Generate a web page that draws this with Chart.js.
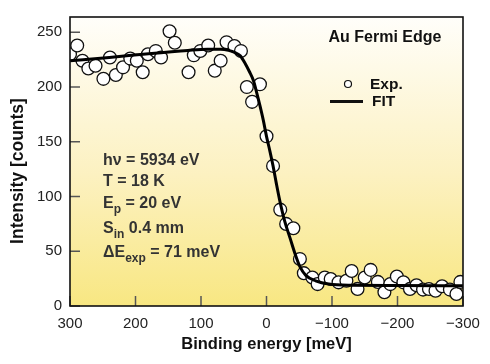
<!DOCTYPE html>
<html>
<head>
<meta charset="utf-8">
<script src="https://cdn.jsdelivr.net/npm/chart.js@4"></script>
<style>
  html, body { margin: 0; padding: 0; background: #fff; }
  canvas { display: block; }
</style>
</head>
<body>
<canvas id="chart" width="490" height="364"></canvas>
<script>
// measured points (binding energy in meV, intensity in counts)
const expEnergy = [300, 289, 281, 272, 261, 249, 239, 230, 219, 208, 198, 189, 181, 169, 161, 148, 140,
    119, 111, 101, 89, 79, 70, 61, 49, 39, 30, 22, 10, 0, -10, -21, -30, -41, -51, -57, -70, -78,
    -89, -98, -110, -122, -130, -139, -150, -159, -170, -180, -189, -199, -209, -219, -229, -239,
    -248, -258, -268, -280, -290, -296];
const expCounts = [230, 238, 224, 217, 219.5, 207.5, 227, 211, 218, 226, 224, 213.5, 230, 233, 227, 251, 240.5,
    213.5, 229, 233, 238, 215, 224, 241, 237.5, 233, 200, 186.5, 202.5, 155, 128, 88, 75, 71, 43, 30, 26, 20,
    26, 24.6, 21.6, 23, 32, 15.6, 26, 33, 22, 12.6, 20, 27, 21.6, 15.6, 19, 15,
    15.5, 14, 18, 15, 11, 22];

// fit curve
const fitEnergy = [300, 240, 180, 120, 90, 70, 58, 48, 40, 33, 26, 20, 15, 10, 5, 0, -5, -10, -15, -20,
    -28, -36, -44, -51, -60, -75, -95, -130, -200, -300];
const fitCounts = [224, 227, 230.5, 233.5, 234.5, 234.5, 233.5, 231.5, 228.5, 222, 214, 206, 195, 183, 170, 155, 142, 128, 112, 97,
    77, 62, 47, 36, 28, 23, 20, 19, 18.8, 18.5];

const xTicks = [300, 200, 100, 0, -100, -200, -300];
const yTicks = [0, 50, 100, 150, 200, 250];

const FONT = '"Liberation Sans", Arial, Helvetica, sans-serif';

const toXY = (xs, ys) => xs.map((x, i) => ({x: x, y: ys[i]}));

// draws a line of text where some pieces are subscripts
const drawRich = (ctx, parts, x, y, size) => {
    let cx = x;
    parts.forEach((p) => {
        const s = p.sub ? Math.round(size * 0.72) : size;
        ctx.font = 'bold ' + s + 'px ' + FONT;
        ctx.fillText(p.t, cx, p.sub ? y + size * 0.3 : y);
        cx += ctx.measureText(p.t).width;
    });
};

const decor = {
    id: 'decor',
    beforeDraw(chart) {
        const {ctx, chartArea: a} = chart;
        ctx.save();
        ctx.fillStyle = '#fff';
        ctx.fillRect(0, 0, chart.width, chart.height);
        const g = ctx.createLinearGradient(0, a.top, 0, a.bottom);
        g.addColorStop(0, '#fffefa');
        g.addColorStop(0.55, '#fcf1c0');
        g.addColorStop(1, '#f8e782');
        ctx.fillStyle = g;
        ctx.fillRect(a.left, a.top, a.right - a.left, a.bottom - a.top);
        ctx.restore();
    },
    beforeDatasetsDraw(chart) {
        const {ctx, chartArea: a, scales} = chart;
        ctx.save();
        ctx.strokeStyle = '#555';
        ctx.lineWidth = 1.5;
        ctx.beginPath();
        xTicks.forEach((v) => {
            const px = scales.x.getPixelForValue(v);
            ctx.moveTo(px, a.bottom);
            ctx.lineTo(px, a.bottom - 10);
        });
        yTicks.forEach((v) => {
            const py = scales.y.getPixelForValue(v);
            ctx.moveTo(a.left, py);
            ctx.lineTo(a.left + 10, py);
        });
        ctx.stroke();
        ctx.restore();
    },
    afterDatasetsDraw(chart) {
        const {ctx, chartArea: a} = chart;
        ctx.save();
        ctx.strokeStyle = '#111';
        ctx.lineWidth = 1.6;
        ctx.strokeRect(a.left, a.top, a.right - a.left, a.bottom - a.top);
        ctx.restore();
    },
    afterDraw(chart) {
        const ctx = chart.ctx;
        ctx.save();
        ctx.fillStyle = '#111';
        ctx.textBaseline = 'alphabetic';
        ctx.textAlign = 'center';
        ctx.font = 'bold 16px ' + FONT;
        ctx.fillText('Au Fermi Edge', 385, 42);

        // y axis title, sits a bit below the axis centre in the original
        ctx.save();
        ctx.translate(18, 171);
        ctx.rotate(-Math.PI / 2);
        ctx.textBaseline = 'middle';
        ctx.font = 'bold 17.5px ' + FONT;
        ctx.fillText('Intensity [counts]', 0, 0);
        ctx.restore();

        // legend
        ctx.textAlign = 'left';
        ctx.font = 'bold 15.5px ' + FONT;
        ctx.fillText('Exp.', 370, 89);
        ctx.fillText('FIT', 372, 106);
        ctx.beginPath();
        ctx.arc(348, 84, 3.5, 0, Math.PI * 2);
        ctx.fillStyle = '#fff';
        ctx.fill();
        ctx.lineWidth = 1.2;
        ctx.strokeStyle = '#111';
        ctx.stroke();
        ctx.beginPath();
        ctx.lineWidth = 3;
        ctx.moveTo(330, 101.5);
        ctx.lineTo(363, 101.5);
        ctx.stroke();

        // measurement parameters
        ctx.fillStyle = '#333';
        drawRich(ctx, [{t: 'h\u03bd = 5934 eV'}], 103, 165, 16);
        drawRich(ctx, [{t: 'T = 18 K'}], 103, 186, 16);
        drawRich(ctx, [{t: 'E'}, {t: 'p', sub: true}, {t: ' = 20 eV'}], 103, 208, 16);
        drawRich(ctx, [{t: 'S'}, {t: 'in', sub: true}, {t: ' 0.4 mm'}], 103, 233, 16);
        drawRich(ctx, [{t: '\u0394E'}, {t: 'exp', sub: true}, {t: ' = 71 meV'}], 103, 257, 16);
        ctx.restore();
    }
};

const graph = document.querySelector('#chart');

new Chart(graph, {
    type: 'scatter',
    data: {
        datasets: [
            {
                label: 'FIT',
                data: toXY(fitEnergy, fitCounts),
                showLine: true,
                borderColor: '#000',
                borderWidth: 3,
                pointRadius: 0,
                cubicInterpolationMode: 'monotone',
                clip: 0
            },
            {
                label: 'Exp.',
                data: toXY(expEnergy, expCounts),
                pointRadius: 6.4,
                pointBorderWidth: 1.3,
                pointBorderColor: '#111',
                pointBackgroundColor: '#fff',
                clip: 0
            }
        ]
    },
    options: {
        responsive: false,
        animation: false,
        devicePixelRatio: 1,
        layout: {padding: {left: 0, right: 27, top: 12, bottom: 0}},
        plugins: {
            legend: {display: false},
            tooltip: {enabled: false}
        },
        scales: {
            x: {
                type: 'linear',
                reverse: true,
                min: -300,
                max: 300,
                afterBuildTicks: (scale) => { scale.ticks = xTicks.map((v) => ({value: v})); },
                afterFit: (scale) => { scale.height = 58; },
                grid: {display: false, drawTicks: false},
                border: {display: false},
                ticks: {
                    autoSkip: false,
                    maxRotation: 0,
                    padding: 9,
                    color: '#222',
                    font: {family: FONT, size: 15},
                    callback: (v) => (v < 0 ? '\u2212' + Math.abs(v) : String(v))
                },
                title: {
                    display: true,
                    text: 'Binding energy [meV]',
                    color: '#111',
                    font: {family: FONT, size: 16.5, weight: 'bold'},
                    padding: {top: 0, bottom: 10}
                }
            },
            y: {
                type: 'linear',
                min: 0,
                max: 264,
                afterBuildTicks: (scale) => { scale.ticks = yTicks.map((v) => ({value: v})); },
                afterFit: (scale) => { scale.width = 70; },
                grid: {display: false, drawTicks: false},
                border: {display: false},
                ticks: {
                    padding: 8,
                    color: '#222',
                    font: {family: FONT, size: 15}
                }
            }
        }
    },
    plugins: [decor]
});
</script>
</body>
</html>
